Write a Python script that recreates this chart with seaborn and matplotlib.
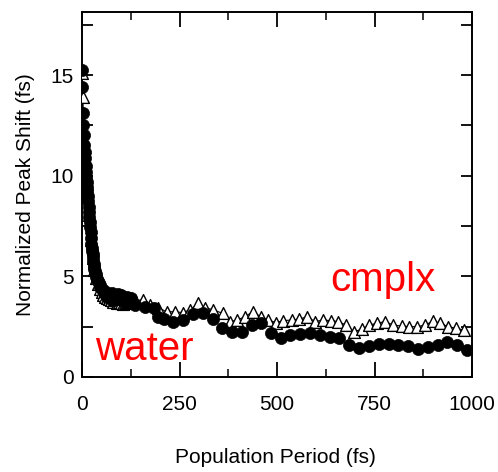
import matplotlib
matplotlib.use("Agg")
import matplotlib.pyplot as plt
import seaborn as sns
import pandas as pd
from matplotlib.ticker import MultipleLocator

# ---- data ----
water_t = [0, 0.5, 2, 3, 4, 5, 6.5, 8, 9, 10,
           11, 12, 13, 14, 15, 16, 17, 18, 19, 20,
           21, 22, 23, 24, 25, 26, 27, 28, 29, 30,
           31, 32, 33, 35, 37, 39, 41, 43, 45, 47,
           50, 53, 56, 59, 62, 65, 68, 71, 74, 77,
           80, 83, 86, 89, 92, 95, 98, 101, 104, 107,
           110, 113, 116, 119, 122, 125, 128, 136, 162, 185,
           196, 211, 234, 260, 285, 310, 335, 358, 385, 409,
           435, 459, 485, 509, 533, 559, 585, 610, 636, 660,
           685, 711, 737, 762, 788, 811, 837, 862, 886, 912,
           935, 961, 986]
water_v = [15.25, 14.4, 13.1, 12.5, 12.0, 11.5, 11.2, 10.9, 10.5, 10.2,
           9.95, 9.7, 9.45, 9.2, 9.0, 8.75, 8.46, 8.2, 7.95, 7.7,
           7.45, 7.2, 6.9, 6.6, 6.4, 6.25, 6.1, 5.95, 5.75, 5.6,
           5.45, 5.35, 5.25, 5.1, 4.95, 4.85, 4.75, 4.65, 4.55, 4.45,
           4.38, 4.3, 4.22, 4.1, 4.2, 3.95, 4.1, 4.0, 3.85, 4.15,
           3.95, 3.8, 4.0, 3.9, 4.1, 3.85, 3.95, 4.05, 3.8, 3.9,
           3.75, 3.85, 3.95, 3.8, 3.75, 3.9, 3.7, 3.58, 3.49, 3.41,
           3.0, 2.87, 2.75, 2.83, 3.13, 3.16, 2.87, 2.42, 2.25, 2.25,
           2.58, 2.70, 2.20, 1.92, 2.09, 2.14, 2.20, 2.09, 2.0, 1.92,
           1.59, 1.42, 1.54, 1.64, 1.62, 1.59, 1.54, 1.37, 1.47, 1.59,
           1.72, 1.59, 1.34]

cmplx_t = [0, 2, 8, 12, 17, 23, 28,
           32, 36, 40, 45, 50, 55, 60, 65, 70, 75,
           80, 85, 90, 95, 100, 105, 110, 115, 120, 125,
           136, 157, 174, 195, 217, 238, 258, 277, 298, 315,
           337, 361, 380, 398, 418, 438, 458, 478, 497, 516,
           538, 557, 578, 597, 617, 638, 657, 677, 697, 717,
           737, 756, 777, 798, 820, 839, 860, 879, 901, 918,
           939, 959, 979]
cmplx_v = [15.1, 13.9, 10.8, 9.6, 8.05, 6.8, 5.9,
           5.3, 4.9, 4.6, 4.35, 4.2, 4.05, 3.95, 3.9, 3.85, 3.8,
           3.75, 3.8, 3.7, 3.75, 3.7, 3.65, 3.7, 3.75, 3.8, 3.9,
           3.82, 3.82, 3.58, 3.45, 3.24, 3.24, 3.2, 3.33, 3.66, 3.45,
           3.33, 3.16, 2.75, 2.83, 3.0, 3.24, 3.0, 2.83, 2.70, 2.80,
           2.83, 2.87, 3.0, 2.75, 2.83, 2.80, 2.75, 2.58, 2.25, 2.37,
           2.58, 2.67, 2.75, 2.58, 2.53, 2.50, 2.50, 2.58, 2.78, 2.67,
           2.50, 2.42, 2.33]

x_ticks = [0, 250, 500, 750, 1000]
y_ticks = [0, 5, 10, 15]
x_label = "Population Period (fs)"
y_label = "Normalized Peak Shift (fs)"

water = pd.DataFrame({"t": water_t, "v": water_v})
cmplx = pd.DataFrame({"t": cmplx_t, "v": cmplx_v})

# ---- figure ----
sns.set_theme(style="ticks")
plt.rcParams["font.family"] = ["Liberation Sans", "DejaVu Sans"]
plt.rcParams["text.color"] = "black"
plt.rcParams["axes.labelcolor"] = "black"
plt.rcParams["xtick.color"] = "black"
plt.rcParams["ytick.color"] = "black"

fig = plt.figure(figsize=(4.98, 4.72), dpi=100)
ax = fig.add_axes([82 / 498, 1 - 377 / 472, 390 / 498, 365 / 472])

sns.lineplot(data=cmplx, x="t", y="v", ax=ax, color="black", linewidth=0.8,
             sort=True, zorder=2)
sns.scatterplot(data=cmplx, x="t", y="v", ax=ax, marker="^", s=72,
                facecolor="white", edgecolor="black", linewidth=1.0, zorder=3)
sns.scatterplot(data=water, x="t", y="v", ax=ax, marker="o", s=76,
                color="black", edgecolor="black", linewidth=0.5, zorder=4)

ax.set_xlim(0, 1000)
ax.set_ylim(0, 18.13)
ax.set_xticks(x_ticks)
ax.set_yticks(y_ticks)
ax.xaxis.set_minor_locator(MultipleLocator(125))
ax.yaxis.set_minor_locator(MultipleLocator(2.5))

for s in ax.spines.values():
    s.set_linewidth(1.4)
    s.set_color("black")

ax.tick_params(axis="x", which="major", direction="in", length=10.5, width=1.3,
               top=True, bottom=True, pad=13, labelsize=15, colors="black")
ax.tick_params(axis="x", which="minor", direction="in", length=5.5, width=1.1,
               top=True, bottom=True, colors="black")
ax.tick_params(axis="y", which="both", direction="in", length=8, width=1.3,
               left=True, right=True, pad=6, labelsize=15, colors="black")

ax.set_xlabel(x_label, fontsize=15, color="black")
ax.set_ylabel(y_label, fontsize=15, color="black")
ax.xaxis.set_label_coords(0.495, -0.195)
ax.yaxis.set_label_coords(-0.12, 0.5)

ax.text(636, 4.27, "cmplx", color="red", fontsize=29, ha="left", va="baseline")
ax.text(33, 0.84, "water", color="red", fontsize=29, ha="left", va="baseline")

fig.savefig("out.png", dpi=100)
